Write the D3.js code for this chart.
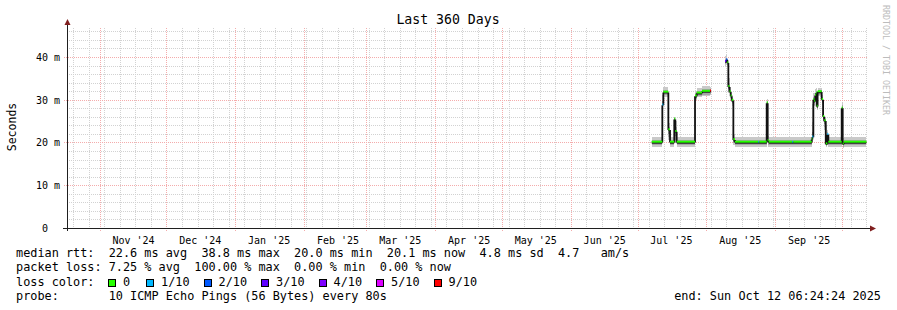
<!DOCTYPE html>
<html><head><meta charset="utf-8">
<script src="https://cdn.jsdelivr.net/npm/d3@7"></script>
<style>
html,body{margin:0;padding:0;background:#fff;}
svg{display:block;}
text{font-family:"DejaVu Sans Mono",monospace;white-space:pre;}
</style></head><body>
<svg id="chart" width="897" height="310"></svg>
<script>
// ---------------- data ----------------
const chartTitle = "Last 360 Days";
const yAxisTitle = "Seconds";
const watermark = "RRDTOOL / TOBI OETIKER";
const rangeStart = "2024-10-17T06:24:24Z";
const rangeEnd = "2025-10-12T06:24:24Z";
const yMax = 46.78;
const yTicks = [0, 10, 20, 30, 40];
const yTickLabels = ["0  ", "10 m", "20 m", "30 m", "40 m"];
const monthLabelDates = ["2024-11-16","2024-12-16","2025-01-16","2025-02-16","2025-03-16","2025-04-16","2025-05-16","2025-06-16","2025-07-16","2025-08-16","2025-09-16"];
const monthLabels = ["Nov '24","Dec '24","Jan '25","Feb '25","Mar '25","Apr '25","May '25","Jun '25","Jul '25","Aug '25","Sep '25"];

// samples (median rtt in ms, loss count out of 10, smoke low/high in ms); null = no data
const sampleTimes = ["2025-07-07T09:00Z","2025-07-12T04:00Z","2025-07-12T15:00Z","2025-07-14T21:00Z","2025-07-15T15:00Z",
  "2025-07-17T13:00Z","2025-07-18T00:00Z","2025-07-18T15:00Z","2025-07-26T21:00Z","2025-07-27T15:00Z",
  "2025-07-30T01:00Z","2025-08-02T15:00Z","2025-08-03T02:00Z","2025-08-09T09:00Z","2025-08-09T22:00Z",
  "2025-08-10T10:00Z","2025-08-10T21:00Z","2025-08-11T10:00Z","2025-08-11T22:00Z","2025-08-12T09:00Z",
  "2025-08-13T03:00Z","2025-08-13T21:00Z","2025-08-24T09:00Z","2025-08-24T19:00Z","2025-08-28T03:00Z",
  "2025-08-28T14:00Z","2025-08-29T01:00Z","2025-09-08T16:00Z","2025-09-09T03:00Z","2025-09-17T09:00Z",
  "2025-09-17T16:00Z","2025-09-18T03:00Z","2025-09-18T13:00Z","2025-09-18T23:00Z","2025-09-19T08:00Z",
  "2025-09-19T15:00Z","2025-09-20T01:00Z","2025-09-21T21:00Z","2025-09-22T12:00Z","2025-09-23T01:00Z",
  "2025-09-23T17:00Z","2025-09-24T10:00Z","2025-09-24T21:00Z","2025-09-30T21:00Z","2025-10-01T08:00Z",
  "2025-10-01T19:00Z","2025-10-12T01:00Z"];
const medianMs = [20.0,28.7,31.7,22.9,20.0, 25.4,22.5,20.0,30.8,31.5, 31.9,32.0,null,38.9,39.3,
  38.6,33.0,31.8,30.8,29.8, 20.6,20.0,20.0,20.0,29.2, 20.4,20.0,20.0,20.0,20.7,
  21.2,30.0,29.6,31.0,31.5, 28.4,31.8,30.0,26.0,25.0, 19.6,21.8,20.0,28.0,19.6, 20.0,null];
const lossCount = [0,1,0,0,0, 0,0,0,0,0, 0,9,0,3,2, 0,0,0,0,0, 0,0,1,0,0, 0,0,1,0,0,
  1,0,0,0,0, 0,0,0,0,0, 0,1,0,0,0, 0,0];
const smokeLoMs = [19.0,20.5,30.7,20.5,19.0, 20.0,19.8,19.0,30.0,30.6, 30.9,31.0,null,38.0,38.2,
  37.8,31.5,30.5,29.5,28.5, 19.5,19.0,19.0,19.0,20.0, 19.0,19.0,19.0,19.0,19.5,
  20.0,29.0,28.5,30.0,30.5, 27.5,30.8,28.8,24.8,23.0, 19.0,19.5,19.0,20.0,18.8, 19.0,null];
const smokeHiMs = [21.2,31.0,32.9,24.5,21.2, 26.0,25.0,21.3,32.0,32.8, 33.1,33.0,null,40.2,40.5,
  39.6,35.0,33.0,32.0,31.0, 22.0,21.2,21.2,21.2,30.2, 21.5,21.2,21.2,21.2,21.8,
  29.0,31.5,31.5,32.5,32.8, 32.0,32.8,31.2,27.5,26.0, 24.0,23.0,21.2,29.5,21.0, 21.2,null];

const lossLegendLabels = ["0","1/10","2/10","3/10","4/10","5/10","9/10"];
const lossLegendCounts = [0,1,2,3,4,5,9];
const lossLegendColors = ["#26ff00","#00b8ff","#0059ff","#5e00ff","#7e00ff","#dd00ff","#ff0000"];
const legendLine1 = "median rtt:  22.6 ms avg  38.8 ms max  20.0 ms min  20.1 ms now  4.8 ms sd  4.7   am/s";
const legendLine2 = "packet loss: 7.25 % avg  100.00 % max  0.00 % min  0.00 % now";
const legendLine3 = "loss color:";
const legendLine4 = "probe:       10 ICMP Echo Pings (56 Bytes) every 80s";
const legendEnd = "end: Sun Oct 12 06:24:24 2025";

// ---------------- drawing ----------------
const L = 67, R = 867, T = 28, B = 228;
const svg = d3.select("#chart");
svg.append("rect").attr("width", 897).attr("height", 310).attr("fill", "#fff");

const x = d3.scaleUtc().domain([new Date(rangeStart), new Date(rangeEnd)]).range([L, R]);
const y = d3.scaleLinear().domain([0, yMax]).range([B, T]);
const px = v => Math.round(v) + 0.5;
const colorOf = c => lossLegendColors[lossLegendCounts.indexOf(c)] || "#000";

// grid
const minorY = d3.range(2, yMax, 2).filter(v => v % 10 !== 0);
const weeks = d3.utcSunday.range(new Date(rangeStart), new Date(rangeEnd));
const months = d3.utcMonth.range(new Date(rangeStart), new Date(rangeEnd));
const grid = svg.append("g").attr("stroke-width", 1).attr("fill", "none").attr("shape-rendering", "crispEdges");
const gMin = grid.append("g").attr("stroke", "#d2d2d2").attr("stroke-dasharray", "1,1");
minorY.forEach(v => gMin.append("line").attr("x1", L).attr("x2", R).attr("y1", px(y(v))).attr("y2", px(y(v))));
weeks.forEach(d => gMin.append("line").attr("x1", px(x(d))).attr("x2", px(x(d))).attr("y1", T).attr("y2", B));
const gMaj = grid.append("g").attr("stroke", "#f4acac").attr("stroke-dasharray", "1,1");
yTicks.filter(v => v > 0).forEach(v => gMaj.append("line").attr("x1", L - 3).attr("x2", R).attr("y1", px(y(v))).attr("y2", px(y(v))));
months.forEach(d => gMaj.append("line").attr("x1", px(x(d))).attr("x2", px(x(d))).attr("y1", T).attr("y2", B + 3));

// smoke
const samples = sampleTimes.map((t, i) => ({
  t0: new Date(t), t1: i + 1 < sampleTimes.length ? new Date(sampleTimes[i + 1]) : null,
  med: medianMs[i], loss: lossCount[i], lo: smokeLoMs[i], hi: smokeHiMs[i]
})).filter(s => s.t1);
const smoke = svg.append("g").attr("shape-rendering", "crispEdges");
const bands = [
  {a: 1.0, b: 1.0, c: "#c9c9c9"},
  {a: 0.7, b: 0.45, c: "#a6a6a6"},
  {a: 0.35, b: 0.15, c: "#777777"}
];
samples.forEach(s => {
  if (s.med == null) return;
  bands.forEach(bd => {
    const lo = s.med - (s.med - s.lo) * bd.a, hi = s.med + (s.hi - s.med) * bd.b;
    smoke.append("rect").attr("x", x(s.t0)).attr("width", x(s.t1) - x(s.t0))
      .attr("y", y(hi)).attr("height", y(lo) - y(hi)).attr("fill", bd.c);
  });
});

// median line (black step) + loss-colored segments
let dPath = "";
samples.forEach((s, i) => {
  if (s.med == null) return;
  const x0 = x(s.t0), x1 = x(s.t1), yy = y(s.med);
  const prev = samples[i - 1];
  if (prev && prev.med != null) dPath += `M${x0},${y(prev.med)}L${x0},${yy}`;
  dPath += `M${x0},${yy}L${x1},${yy}`;
});
svg.append("path").attr("d", dPath).attr("fill", "none").attr("stroke", "#111").attr("stroke-width", 1.8);
const segs = svg.append("g").attr("transform", "translate(0,-0.8)");
samples.forEach(s => {
  if (s.med == null) return;
  segs.append("line").attr("x1", x(s.t0)).attr("x2", x(s.t1))
    .attr("y1", y(s.med)).attr("y2", y(s.med)).attr("stroke", colorOf(s.loss)).attr("stroke-width", 2);
});

// axes
const yAxis = d3.axisLeft(y).tickValues(yTicks).tickFormat((d, i) => yTickLabels[i]).tickSize(0).tickPadding(7);
const gy = svg.append("g").attr("transform", `translate(${L},0)`).call(yAxis);
gy.select(".domain").remove();
gy.selectAll("text").attr("font-family", "DejaVu Sans Mono").attr("font-size", 10).attr("fill", "#000").attr("dy", "0.34em");

const xAxis = d3.axisBottom(x).tickValues(monthLabelDates.map(d => new Date(d + "T00:00:00Z")))
  .tickFormat((d, i) => monthLabels[i]).tickSize(0).tickPadding(9);
const gx = svg.append("g").attr("transform", `translate(0,${B})`).call(xAxis);
gx.select(".domain").remove();
gx.selectAll("text").attr("font-family", "DejaVu Sans Mono").attr("font-size", 10).attr("fill", "#000");

// axis lines & arrows
svg.append("line").attr("x1", L - 4).attr("x2", R + 3).attr("y1", B + 0.5).attr("y2", B + 0.5).attr("stroke", "#1f1f1f").attr("stroke-width", 1);
svg.append("line").attr("x1", L + 0.5).attr("x2", L + 0.5).attr("y1", B + 3).attr("y2", T - 3).attr("stroke", "#1f1f1f").attr("stroke-width", 1);
svg.append("path").attr("d", `M${R + 3},${B - 2.5}L${R + 9},${B + 0.5}L${R + 3},${B + 3.5}Z`).attr("fill", "#801f1f");
svg.append("path").attr("d", `M${L - 2.5},${T - 3}L${L + 0.5},${T - 9}L${L + 3.5},${T - 3}Z`).attr("fill", "#801f1f");

// titles
svg.append("text").attr("x", 448).attr("y", 24).attr("text-anchor", "middle").attr("font-size", 13.2).text(chartTitle);
svg.append("text").attr("transform", "translate(15.5,127) rotate(-90)").attr("text-anchor", "middle").attr("font-size", 11.5).text(yAxisTitle);
svg.append("text").attr("transform", "translate(882.5,5) rotate(90)").attr("font-size", 8.3).attr("fill", "#bcbcbc").text(watermark);

// legend
const fs = 11.85;
const lg = svg.append("g").attr("font-size", fs).attr("fill", "#000");
lg.append("text").attr("x", 16).attr("y", 256.5).text(legendLine1);
lg.append("text").attr("x", 16).attr("y", 271).text(legendLine2);
lg.append("text").attr("x", 16).attr("y", 285.5).text(legendLine3);
lg.append("text").attr("x", 16).attr("y", 300).text(legendLine4);
lg.append("text").attr("x", 881).attr("y", 300).attr("text-anchor", "end").text(legendEnd);
let bx = 108;
lossLegendLabels.forEach((lab, i) => {
  lg.append("rect").attr("x", Math.round(bx) + 0.5).attr("y", 279.5).attr("width", 7).attr("height", 7)
    .attr("fill", lossLegendColors[i]).attr("stroke", "#000").attr("stroke-width", 1);
  lg.append("text").attr("x", bx + 15).attr("y", 285.5).text(lab);
  bx += 31.5 + lab.length * 6.5;
});
</script>
</body></html>
